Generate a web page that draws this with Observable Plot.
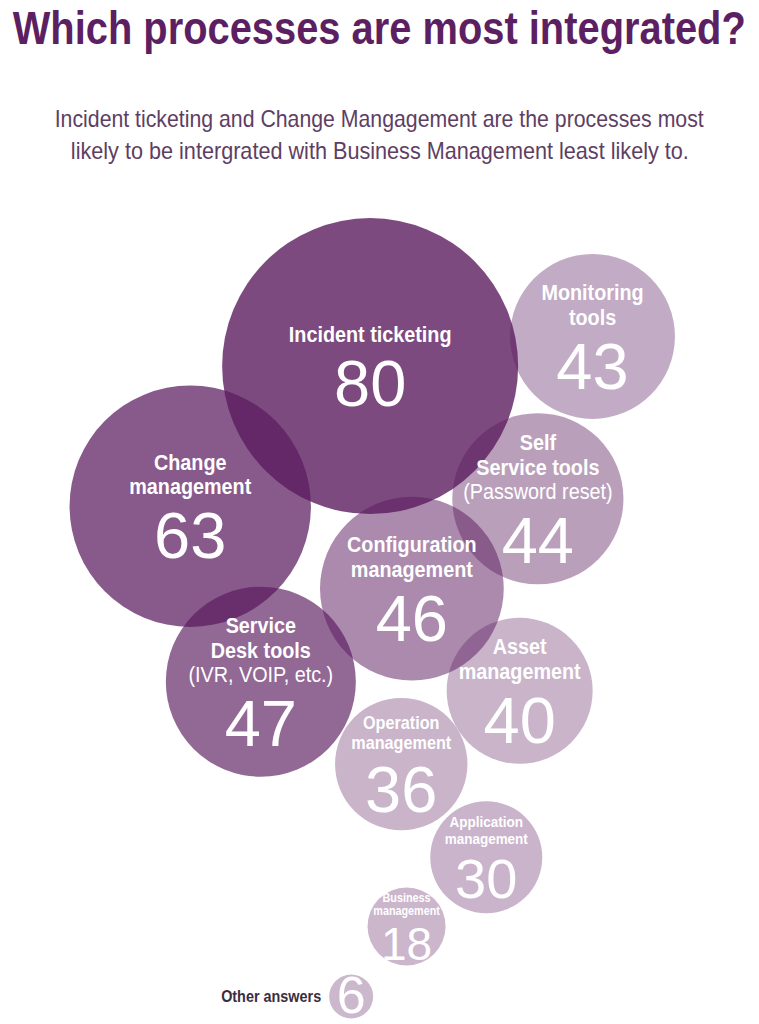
<!DOCTYPE html>
<html>
<head>
<meta charset="utf-8">
<script src="https://cdn.jsdelivr.net/npm/d3@7"></script>
<script src="https://cdn.jsdelivr.net/npm/@observablehq/plot@0.6"></script>
<style>
  body { margin: 0; background: #fff; width: 759px; overflow: hidden; }
  #title { height: 62px; display: flex; justify-content: center; font: bold 47px "Liberation Sans", Arial, sans-serif; color: #5c1f62; line-height: 56px; white-space: nowrap; }
  #subtitle { height: 138px; box-sizing: border-box; padding-top: 41px; font: 24px "Liberation Sans", Arial, sans-serif; color: #5e3e63; line-height: 32px; white-space: nowrap; }
  #subtitle div { display: flex; justify-content: center; }
  .fit { display: inline-block; flex: none; transform-origin: 50% 50%; }
  #chart svg { display: block; }
</style>
</head>
<body>
<div id="title"><span class="fit" data-w="733">Which processes are most integrated?</span></div>
<div id="subtitle"><div><span class="fit" data-w="649">Incident ticketing and Change Mangagement are the processes most</span></div><div><span class="fit" data-w="618">likely to be intergrated with Business Management least likely to.</span></div></div>
<div id="chart"></div>
<script>
// ---- data ----
const processes = [
  "Incident ticketing",
  "Monitoring\ntools",
  "Change\nmanagement",
  "Self\nService tools",
  "Configuration\nmanagement",
  "Service\nDesk tools",
  "Asset\nmanagement",
  "Operation\nmanagement",
  "Application\nmanagement",
  "Business\nmanagement",
  "Other answers"
];
const notes = ["", "", "", "(Password reset)", "", "(IVR, VOIP, etc.)", "", "", "", "", ""];
const counts = [80, 43, 63, 44, 46, 47, 40, 36, 30, 18, 6];
// bubble layout (abstract layout units, 0–100 across / down the chart area)
const layoutX = [48.7, 78.0, 25.0, 70.8, 54.2, 34.3, 68.4, 52.8, 64.0, 53.5, 46.2];
const layoutY = [20.1, 16.5, 37.1, 36.2, 47.1, 58.4, 59.5, 68.4, 79.7, 88.1, 96.6];

// ---- fit header lines to the reference widths ----
document.querySelectorAll(".fit").forEach(el => {
  const w = el.getBoundingClientRect().width;
  el.style.transform = `scaleX(${(+el.dataset.w / w).toFixed(4)})`;
});

// ---- layout helpers ----
const W = 759, H = 824;
const pxY = H / 100;
const rDomain = [0, 6, 30, 40, 47, 80], rRange = [0, 22, 56, 73, 95, 148];
const radius = d3.scaleLinear().domain(rDomain).range(rRange);
const labelSize = d3.scaleLinear().domain([18, 30, 36, 40]).range([12, 15, 18, 22]).clamp(true);
const numberSize = d3.scaleLinear().domain([6, 18, 30, 36]).range([52, 46, 56, 65]).clamp(true);
const sans = '"Liberation Sans", Arial, sans-serif';
const LH = 1.12;

const bubbles = counts.map((v, i) => ({
  name: processes[i], note: notes[i], value: v, x: layoutX[i], y: layoutY[i]
}));

const inside = bubbles.filter(d => d.value >= 10).map(d => {
  const L = labelSize(d.value), N = numberSize(d.value), lh = LH * L;
  const gap = 0.19 * N + 0.22 * L;
  const nb = d.name.split("\n").length, nn = d.note ? 1 : 0;
  const labelH = 0.72 * L + (nb + nn - 1) * lh;
  const Hb = labelH + gap + 0.72 * N;
  const top = -Hb / 2;
  const boldBase = top + 0.72 * L + (nb - 1) * lh;
  return {...d, L, N,
    yBold: d.y + boldBase / pxY,
    yNote: d.y + (boldBase + lh) / pxY,
    yNum: d.y + (Hb / 2) / pxY};
});
const outside = bubbles.filter(d => d.value < 10).map(d => ({...d, N: numberSize(d.value)}));

const chart = Plot.plot({
  width: W, height: H,
  margin: 0,
  x: {domain: [0, 100], range: [0, W], axis: null},
  y: {domain: [0, 100], range: [0, H], axis: null},
  r: {type: "linear", domain: rDomain, range: rRange},
  opacity: {type: "linear", domain: [6, 40, 43, 44, 46, 47, 63, 80], range: [0.31, 0.33, 0.37, 0.42, 0.51, 0.66, 0.72, 0.79]},
  style: {overflow: "visible"},
  marks: [
    Plot.dot(bubbles, {x: "x", y: "y", r: "value", fill: "#5a1a5e", fillOpacity: "value", stroke: null}),
    Plot.text(inside, {x: "x", y: "yBold", text: "name", fill: "white", fontWeight: "bold",
      fontSize: d => d.L, lineAnchor: "bottom", lineHeight: LH, fontFamily: sans}),
    Plot.text(inside.filter(d => d.note), {x: "x", y: "yNote", text: "note", fill: "white",
      fontSize: d => d.L, lineAnchor: "bottom", fontFamily: sans}),
    Plot.text(inside, {x: "x", y: "yNum", text: d => String(d.value), fill: "white",
      fontSize: d => d.N, lineAnchor: "bottom", fontFamily: sans}),
    Plot.text(outside, {x: "x", y: "y", text: d => String(d.value), fill: "white",
      fontSize: d => d.N, lineAnchor: "middle", fontFamily: sans}),
    Plot.text(outside, {x: "x", y: "y", text: "name", textAnchor: "end", dx: -(radius(6) + 8),
      fill: "#3b2d3e", fontWeight: "bold", fontSize: 16, fontFamily: sans})
  ]
});
// condense the label texts horizontally (the reference uses a condensed face)
const textGroups = chart.querySelectorAll('g[aria-label="text"]');
[0, 1, 4].forEach(k => {
  textGroups[k].querySelectorAll("text").forEach(t => {
    t.setAttribute("transform", (t.getAttribute("transform") || "") + " scale(0.9,1)");
  });
});
document.getElementById("chart").appendChild(chart);
</script>
</body>
</html>
